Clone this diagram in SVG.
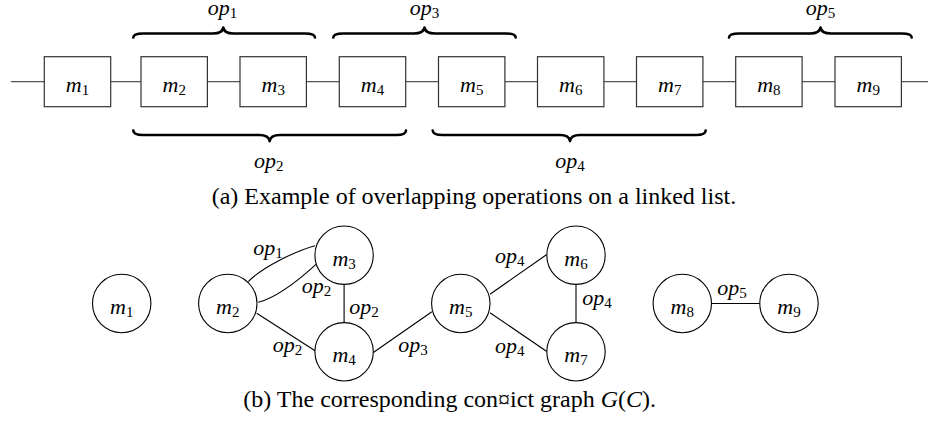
<svg xmlns="http://www.w3.org/2000/svg" width="928" height="423" viewBox="0 0 928 423">
<style>
  .box{fill:#fff;stroke:#333;stroke-width:1.2}
  .chain{stroke:#555;stroke-width:1.2;fill:none}
  .brace{fill:none;stroke:#000;stroke-width:2.6;stroke-linecap:round;stroke-linejoin:round}
  .node{fill:#fff;stroke:#000;stroke-width:1.1}
  .edge{fill:none;stroke:#000;stroke-width:1.1}
  .m{font-family:"Liberation Serif","Times New Roman",serif;font-style:italic;font-size:22px;fill:#000}
  .c{text-anchor:middle}
  .sub{font-style:normal;font-size:15px}
  .cap{font-family:"Liberation Serif","Times New Roman",serif;font-size:24px;fill:#000}
</style>
<rect width="928" height="423" fill="#fff"/>

<!-- linked list chain -->
<g id="chain-links">
  <path class="chain" d="M11,81.7 H928"/>
</g>
<g id="list-m1"><rect class="box" x="44.3" y="56.7" width="66.4" height="50"/><text class="m c" x="77.5" y="91.5">m<tspan class="sub" dy="3">1</tspan></text></g>
<g id="list-m2"><rect class="box" x="141" y="56.7" width="66.4" height="50"/><text class="m c" x="174.2" y="91.5">m<tspan class="sub" dy="3">2</tspan></text></g>
<g id="list-m3"><rect class="box" x="240" y="56.7" width="66.4" height="50"/><text class="m c" x="273.2" y="91.5">m<tspan class="sub" dy="3">3</tspan></text></g>
<g id="list-m4"><rect class="box" x="339.3" y="56.7" width="66.4" height="50"/><text class="m c" x="372.5" y="91.5">m<tspan class="sub" dy="3">4</tspan></text></g>
<g id="list-m5"><rect class="box" x="438.5" y="56.7" width="66.4" height="50"/><text class="m c" x="471.7" y="91.5">m<tspan class="sub" dy="3">5</tspan></text></g>
<g id="list-m6"><rect class="box" x="537.5" y="56.7" width="66.4" height="50"/><text class="m c" x="570.7" y="91.5">m<tspan class="sub" dy="3">6</tspan></text></g>
<g id="list-m7"><rect class="box" x="636.5" y="56.7" width="66.4" height="50"/><text class="m c" x="669.7" y="91.5">m<tspan class="sub" dy="3">7</tspan></text></g>
<g id="list-m8"><rect class="box" x="735.7" y="56.7" width="66.4" height="50"/><text class="m c" x="768.9" y="91.5">m<tspan class="sub" dy="3">8</tspan></text></g>
<g id="list-m9"><rect class="box" x="835" y="56.7" width="66.4" height="50"/><text class="m c" x="868.2" y="91.5">m<tspan class="sub" dy="3">9</tspan></text></g>

<!-- braces -->
<g id="brace-op1">
  <path class="brace" d="M133.3,37.5 Q133.5,33.5 143,33.5 H213 Q222.5,33.5 223.3,27.5 Q224,33.5 233.5,33.5 H305 Q314.8,33.5 315,37.5"/>
  <text class="m c" x="222.5" y="14.5">op<tspan class="sub" dy="3">1</tspan></text>
</g>
<g id="brace-op3">
  <path class="brace" d="M333.3,37.5 Q333.5,33.5 343,33.5 H414 Q423.5,33.5 424.5,27.5 Q425.3,33.5 435,33.5 H506 Q515.5,33.5 515.7,37.5"/>
  <text class="m c" x="424.5" y="14.5">op<tspan class="sub" dy="3">3</tspan></text>
</g>
<g id="brace-op5">
  <path class="brace" d="M729,37.5 Q729.2,33.5 739,33.5 H810 Q819.5,33.5 820.5,27.5 Q821.3,33.5 831,33.5 H902 Q911.5,33.5 911.7,37.5"/>
  <text class="m c" x="820.5" y="14.5">op<tspan class="sub" dy="3">5</tspan></text>
</g>
<g id="brace-op2">
  <path class="brace" d="M133.3,130.5 Q133.5,135 143,135 H259 Q268.8,135 269.7,141.2 Q270.5,135 280,135 H396.5 Q405.8,135 406,130.5"/>
  <text class="m c" x="268.7" y="168">op<tspan class="sub" dy="3">2</tspan></text>
</g>
<g id="brace-op4">
  <path class="brace" d="M432.7,130.5 Q432.9,135 442.5,135 H560 Q569.2,135 570,141.2 Q570.8,135 580,135 H696 Q705.5,135 705.7,130.5"/>
  <text class="m c" x="570" y="168">op<tspan class="sub" dy="3">4</tspan></text>
</g>

<text id="caption-a" class="cap" x="211.7" y="204">(a)  Example of overlapping operations on a linked list.</text>

<!-- conflict graph connectors -->
<g id="graph-edges">
  <path class="edge" d="M248.3,281.7 C262,267 296,251 315,245.7"/>
  <path class="edge" d="M258.3,302.3 C278,297 301,278 316,264.3"/>
  <path class="edge" d="M344.1,284.4 V322.6"/>
  <path class="edge" d="M256.7,313.3 L315.5,351"/>
  <path class="edge" d="M373.3,352.5 L431.9,311.7"/>
  <path class="edge" d="M490,294.3 L546.8,254.5"/>
  <path class="edge" d="M490,312.7 L546.8,351.5"/>
  <path class="edge" d="M576,284.4 V322.6"/>
  <path class="edge" d="M711.5,303.5 H759.8"/>
  <text class="m" x="253.3" y="255">op<tspan class="sub" dy="3">1</tspan></text>
  <text class="m" x="301.7" y="293.3">op<tspan class="sub" dy="3">2</tspan></text>
  <text class="m" x="349.3" y="314.3">op<tspan class="sub" dy="3">2</tspan></text>
  <text class="m" x="272.7" y="352.3">op<tspan class="sub" dy="3">2</tspan></text>
  <text class="m" x="398.3" y="351.7">op<tspan class="sub" dy="3">3</tspan></text>
  <text class="m" x="495" y="263.3">op<tspan class="sub" dy="3">4</tspan></text>
  <text class="m" x="582.3" y="305">op<tspan class="sub" dy="3">4</tspan></text>
  <text class="m" x="495" y="353.3">op<tspan class="sub" dy="3">4</tspan></text>
  <text class="m" x="717.3" y="295">op<tspan class="sub" dy="3">5</tspan></text>
</g>

<!-- conflict graph nodes -->
<g id="g-m1"><circle class="node" cx="121.7" cy="303.5" r="29.2"/><text class="m c" x="121.7" y="314">m<tspan class="sub" dy="3">1</tspan></text></g>
<g id="g-m2"><circle class="node" cx="227.8" cy="303.5" r="29.2"/><text class="m c" x="227.8" y="314">m<tspan class="sub" dy="3">2</tspan></text></g>
<g id="g-m3"><circle class="node" cx="344.1" cy="255.2" r="29.2"/><text class="m c" x="344.1" y="265.7">m<tspan class="sub" dy="3">3</tspan></text></g>
<g id="g-m4"><circle class="node" cx="344.1" cy="351.8" r="29.2"/><text class="m c" x="344.1" y="362.3">m<tspan class="sub" dy="3">4</tspan></text></g>
<g id="g-m5"><circle class="node" cx="460.8" cy="303.5" r="29.2"/><text class="m c" x="460.8" y="314">m<tspan class="sub" dy="3">5</tspan></text></g>
<g id="g-m6"><circle class="node" cx="576" cy="255.2" r="29.2"/><text class="m c" x="576" y="265.7">m<tspan class="sub" dy="3">6</tspan></text></g>
<g id="g-m7"><circle class="node" cx="576" cy="351.8" r="29.2"/><text class="m c" x="576" y="362.3">m<tspan class="sub" dy="3">7</tspan></text></g>
<g id="g-m8"><circle class="node" cx="682.3" cy="303.5" r="29.2"/><text class="m c" x="682.3" y="314">m<tspan class="sub" dy="3">8</tspan></text></g>
<g id="g-m9"><circle class="node" cx="789" cy="303.5" r="29.2"/><text class="m c" x="789" y="314">m<tspan class="sub" dy="3">9</tspan></text></g>

<text id="caption-b" class="cap" x="243.3" y="407">(b)  The corresponding con¤ict graph <tspan font-style="italic">G</tspan>(<tspan font-style="italic">C</tspan>).</text>
</svg>
